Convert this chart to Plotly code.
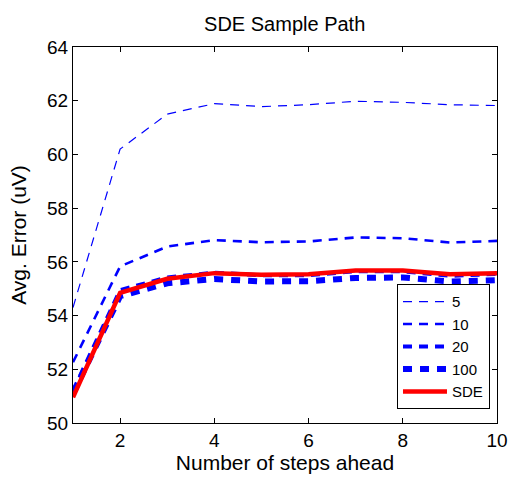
import plotly.graph_objects as go

steps = [1, 2, 3, 4, 5, 6, 7, 8, 9, 10]
err_5 = [54.3, 60.2, 61.5, 61.89, 61.78, 61.85, 61.98, 61.94, 61.85, 61.82]
err_10 = [52.26, 55.83, 56.57, 56.81, 56.73, 56.76, 56.91, 56.88, 56.72, 56.78]
err_20 = [51.2, 54.95, 55.42, 55.6, 55.5, 55.5, 55.65, 55.65, 55.48, 55.55]
err_100 = [51.1, 54.72, 55.2, 55.36, 55.27, 55.28, 55.4, 55.42, 55.27, 55.32]
err_sde = [50.96, 54.85, 55.37, 55.58, 55.52, 55.54, 55.68, 55.68, 55.54, 55.58]

series = [
    ("5", err_5, "blue", 1.2, "9px,7px"),
    ("10", err_10, "blue", 2.6, "9px,7px"),
    ("20", err_20, "blue", 4, "9px,7px"),
    ("100", err_100, "blue", 6, "9px,8px"),
    ("SDE", err_sde, "red", 4.5, "solid"),
]

fig = go.Figure()
for name, ys, color, width, dash in series:
    fig.add_trace(go.Scatter(x=steps, y=ys, mode="lines", name=name,
                             line=dict(color=color, width=width, dash=dash)))

axis_common = dict(showline=True, linecolor="black", linewidth=1.2, mirror="ticks",
                   ticks="inside", ticklen=5, tickcolor="black", showgrid=False,
                   zeroline=False, automargin=False,
                   tickfont=dict(size=19, color="black"))

fig.update_layout(
    width=510, height=479,
    margin=dict(l=73, r=13, t=47, b=56),
    paper_bgcolor="white", plot_bgcolor="white",
    font=dict(family="Liberation Sans, Arial, sans-serif", color="black"),
    title=dict(text="SDE Sample Path", x=0.5582, xanchor="center",
               y=1 - 24 / 479, yanchor="middle", font=dict(size=20)),
    xaxis=dict(range=[1, 10], tickvals=[2, 4, 6, 8, 10],
               title=dict(text="Number of steps ahead", font=dict(size=21), standoff=2),
               **axis_common),
    yaxis=dict(range=[50, 64], tickvals=list(range(50, 65, 2)),
               title=dict(text="Avg. Error (uV)", font=dict(size=21), standoff=14),
               **axis_common),
    legend=dict(x=0.983, y=0.037, xanchor="right", yanchor="bottom",
                bordercolor="black", borderwidth=1.2, bgcolor="white",
                font=dict(size=15), tracegroupgap=0, itemwidth=44),
    showlegend=True,
)

fig.write_html("out.html")
